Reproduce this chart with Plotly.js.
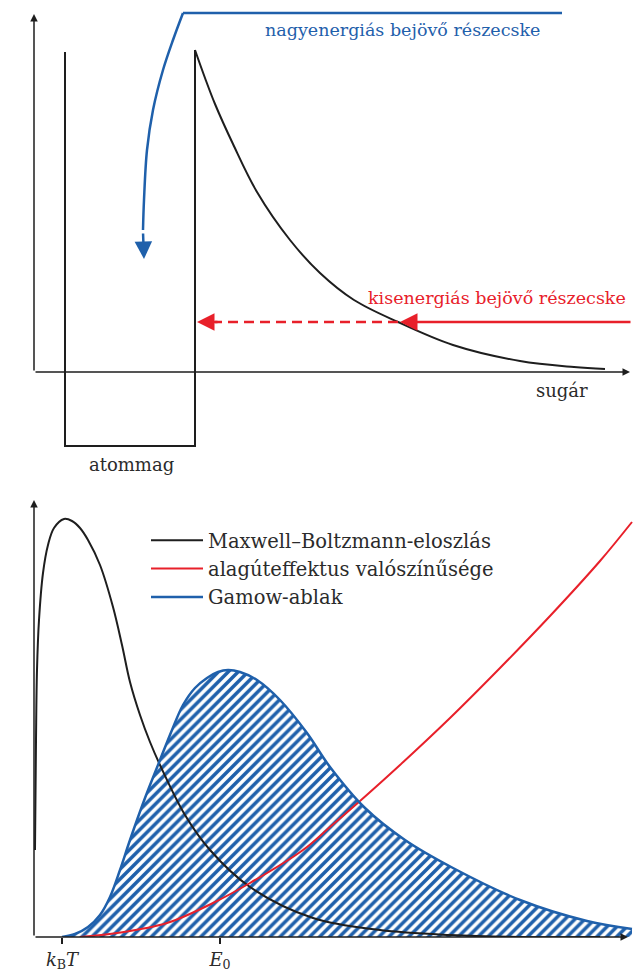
<!DOCTYPE html>
<html><head><meta charset="utf-8">
<script src="https://cdn.plot.ly/plotly-3.0.1.min.js"></script>
<style>html,body{margin:0;padding:0;background:#fff}</style>
</head><body><div id="chart" style="width:633px;height:970px"></div>
<script>
// ---------- top panel: radius (r) vs potential energy (V) ----------
const wellR = [31, 31, 161, 161];
const wellV = [320, -74, -74, 322];
const coulombR = [161, 171, 181, 199, 223, 256, 286, 320, 364, 419, 486, 540, 571];
const coulombV = [322, 294, 268, 228, 180, 132, 99, 72, 50, 27, 11, 5, 3];
const highLineR = [528, 149];
const highLineV = [359, 359];
const highCurveR = [149, 139, 129, 119, 113, 110, 109];
const highCurveV = [359, 332, 302, 262, 222, 172, 142];
const highTip = [110, 113];
const lowV = 50;
const lowSolidR = [598, 366];
const lowDashR = [364, 181];
const lowTipR = 163;

// ---------- bottom panel: energy (E) vs relative probability (P) ----------
const mbE = [1, 2, 3, 5, 9, 14, 20, 30, 38, 46, 54, 66, 79, 88, 96, 106, 116, 126, 151, 176, 216, 279, 346, 416, 486, 566];
const mbP = [87, 197, 267, 317, 364, 392, 409, 418, 416, 409, 397, 372, 330, 292, 255, 222, 195, 172, 122, 87, 50, 19, 7, 2, 0, 0];
const tunE = [46, 83, 133, 179, 216, 269, 296, 326, 366, 416, 466, 516, 566, 598];
const tunP = [0, 4, 14, 34, 54, 87, 110, 136, 172, 219, 269, 321, 376, 415];
const gamE = [28, 41, 54, 66, 76, 86, 96, 111, 126, 138, 149, 161, 173, 184, 194, 206, 223, 246, 273, 296, 331, 371, 419, 486, 553, 598];
const gamP = [0, 3, 10, 22, 40, 67, 97, 139, 177, 207, 232, 249, 259, 265, 267, 265, 257, 237, 204, 170, 129, 97, 69, 37, 16, 8];
const tickE = [28, 186];
const tickLabels = ['<i>k</i><sub>B</sub><i>T</i>', '<i>E</i><sub>0</sub>'];
const legendNames = ['Maxwell\u2013Boltzmann-eloszlás', 'alagúteffektus valószínűsége', 'Gamow-ablak'];

const BLUE = '#1f60ab', RED = '#e8202a', INK = '#1e1e1e', TXT = '#2b2b2b';
const SERIF = 'DejaVu Serif';
const FS = 17.5;

const traces = [
  {x: wellR, y: wellV, xaxis: 'x', yaxis: 'y', mode: 'lines', line: {color: INK, width: 2}, showlegend: false, hoverinfo: 'skip'},
  {x: coulombR, y: coulombV, xaxis: 'x', yaxis: 'y', mode: 'lines', line: {color: INK, width: 2, shape: 'spline'}, showlegend: false, hoverinfo: 'skip'},
  {x: highLineR, y: highLineV, xaxis: 'x', yaxis: 'y', mode: 'lines', line: {color: BLUE, width: 2.5}, showlegend: false, hoverinfo: 'skip'},
  {x: highCurveR, y: highCurveV, xaxis: 'x', yaxis: 'y', mode: 'lines', line: {color: BLUE, width: 2.5, shape: 'spline'}, showlegend: false, hoverinfo: 'skip'},
  {x: lowDashR, y: [lowV, lowV], xaxis: 'x', yaxis: 'y', mode: 'lines', line: {color: RED, width: 2.5, dash: '10px,6px'}, showlegend: false, hoverinfo: 'skip'},
  {x: gamE, y: gamP, xaxis: 'x2', yaxis: 'y2', mode: 'lines', line: {color: BLUE, width: 0, shape: 'spline'}, fill: 'tozeroy',
   fillcolor: 'rgba(0,0,0,0)', fillpattern: {shape: '/', fgcolor: BLUE, bgcolor: '#ffffff', size: 7, solidity: 0.5}, showlegend: false, hoverinfo: 'skip'},
  {x: mbE, y: mbP, xaxis: 'x2', yaxis: 'y2', mode: 'lines', name: legendNames[0], legendrank: 1, legendgroup: 'a', line: {color: INK, width: 2, shape: 'spline'}},
  {x: tunE, y: tunP, xaxis: 'x2', yaxis: 'y2', mode: 'lines', name: legendNames[1], legendrank: 2, legendgroup: 'b', line: {color: RED, width: 2, shape: 'spline'}},
  {x: gamE, y: gamP, xaxis: 'x2', yaxis: 'y2', mode: 'lines', name: legendNames[2], legendrank: 3, legendgroup: 'c', line: {color: BLUE, width: 2.5, shape: 'spline'}}
];

function arrow(ax, ay, x, y, xr, yr, color, w, size) {
  return {x: x, y: y, ax: ax, ay: ay, xref: xr, yref: yr, axref: xr, ayref: yr, text: '', showarrow: true,
    arrowhead: 2, arrowsize: size, arrowwidth: w, arrowcolor: color, standoff: 0, startstandoff: 0};
}
function label(text, x, y, xr, yr, color, size, angle) {
  return {x: x, y: y, xref: xr, yref: yr, text: text, showarrow: false, textangle: angle || 0,
    font: {family: SERIF, size: size, color: color}, xanchor: 'center', yanchor: 'middle'};
}

const annotations = [
  arrow(0, 0, 0, 358, 'x', 'y', INK, 1.5, 1),
  arrow(0, 0, 596, 0, 'x', 'y', INK, 1.5, 1),
  arrow(0, 0, 0, 437, 'x2', 'y2', INK, 1.5, 1),
  arrow(0, 0, 594, 0, 'x2', 'y2', INK, 1.5, 1),
  arrow(lowSolidR[0], lowV, lowSolidR[1], lowV, 'x', 'y', RED, 2.5, 1.4),
  arrow(lowDashR[1] + 4, lowV, lowTipR, lowV, 'x', 'y', RED, 2.5, 1.4),
  arrow(highCurveR[highCurveR.length - 1], highCurveV[highCurveV.length - 1] - 2, highTip[0], highTip[1], 'x', 'y', BLUE, 2.5, 1.4),
  label('nagyenergiás bejövő részecske', 368, 342, 'x', 'y', BLUE, FS),
  label('kisenergiás bejövő részecske', 463, 74, 'x', 'y', RED, FS),
  label('sugár', 528, -18, 'x', 'y', TXT, 18),
  label('atommag', 97, -92, 'x', 'y', TXT, 18),
  label('potenciális energia', -19, 177, 'x', 'y', TXT, 18, -90),
  label('relatív valószínűség', -18, 197, 'x2', 'y2', TXT, 18, -90),
  label('energia', 532, -24, 'x2', 'y2', TXT, 18)
];

const layout = {
  width: 633, height: 970, margin: {l: 0, r: 0, t: 0, b: 0},
  paper_bgcolor: '#ffffff', plot_bgcolor: 'rgba(0,0,0,0)',
  font: {family: SERIF, color: TXT},
  showlegend: true,
  legend: {x: 146 / 633, y: 1 - 521 / 970, xanchor: 'left', yanchor: 'top', bgcolor: 'rgba(0,0,0,0)',
    font: {family: SERIF, size: 19.5, color: TXT}, itemwidth: 52, tracegroupgap: 9, traceorder: 'normal'},
  xaxis: {domain: [34 / 633, 1], range: [0, 599], visible: false},
  yaxis: {domain: [490 / 970, 1], range: [-108, 372], visible: false},
  xaxis2: {domain: [34 / 633, 1], range: [0, 599], anchor: 'y2', showline: false, showgrid: false, zeroline: false,
    ticks: 'outside', ticklen: 6, tickwidth: 1.5, tickcolor: INK, tickvals: tickE, ticktext: tickLabels,
    tickfont: {family: SERIF, size: 18, color: TXT}},
  yaxis2: {domain: [33 / 970, 490 / 970], range: [0, 457], anchor: 'x2', visible: false},
  annotations: annotations
};

Plotly.newPlot('chart', traces, layout, {staticPlot: true, displayModeBar: false});
</script></body></html>
